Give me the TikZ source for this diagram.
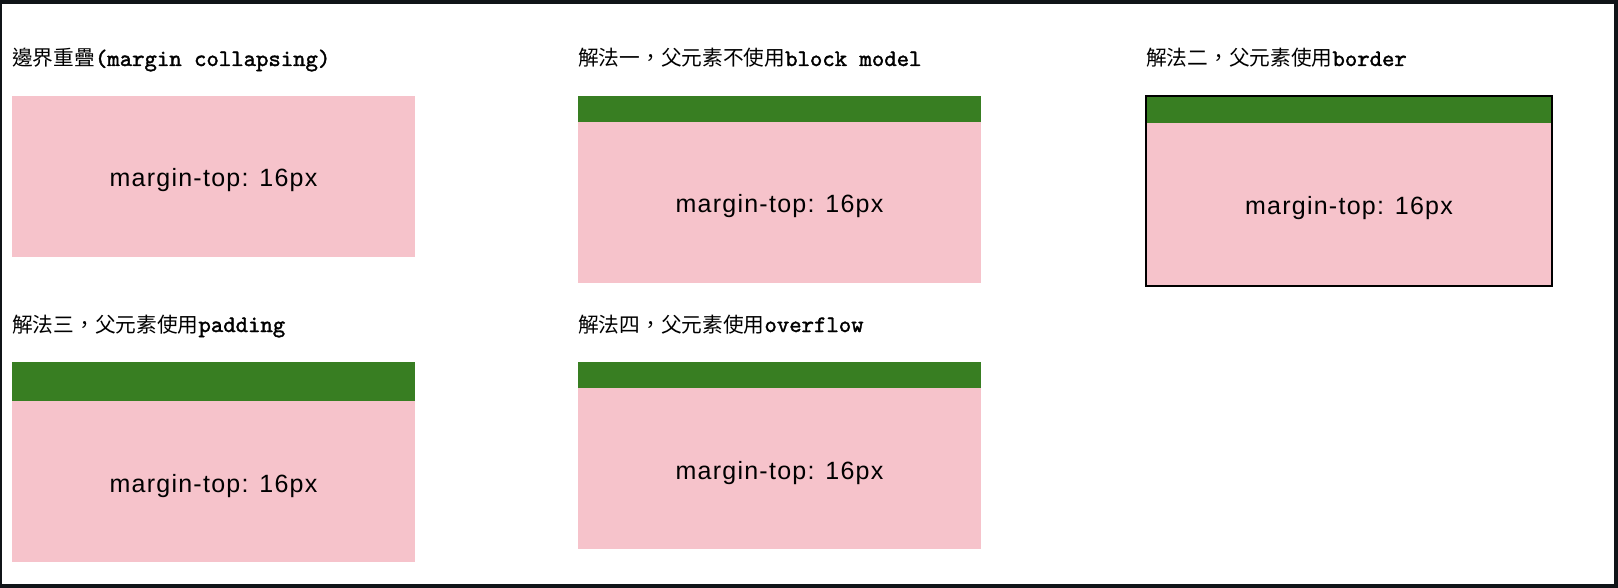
\documentclass[tikz,border=0pt]{standalone}
\usepackage{fontspec}
\setmainfont{Liberation Sans}
\newfontfamily\cjkfont{Noto Sans CJK TC}
\newfontfamily\codefont{lmmono10-regular.otf}[FakeBold=1.6]
\usetikzlibrary{positioning}

\definecolor{framedark}{RGB}{16,20,24}
\definecolor{childpink}{RGB}{246,195,203}
\definecolor{parentgreen}{RGB}{56,126,34}

\newcommand{\zh}[1]{{\cjkfont #1}}
\newcommand{\css}[1]{{\codefont\fontsize{23.6}{28}\selectfont #1}}

\tikzset{
  childbox/.style={fill=childpink, minimum width=403pt, minimum height=161pt,
    inner sep=0pt, outer sep=0pt, text height=21pt, text depth=0pt,
    font=\fontsize{25}{29}\selectfont\addfontfeatures{LetterSpace=5}},
  parentbar/.style={fill=parentgreen, minimum width=403pt, inner sep=0pt, outer sep=0pt},
  heading/.style={anchor=base west, inner sep=0pt, font=\fontsize{20.7}{25}\selectfont}
}

\begin{document}
\begin{tikzpicture}[x=1pt, y=-1pt]
  \useasboundingbox (0,0) rectangle (1618,588);
  \fill[framedark] (0,0) rectangle (1618,588);
  \fill[white] (2,4) rectangle (1614,584);

  % headings
  \node[heading] (h0) at (12,66) {\zh{邊界重疊}\css{(margin collapsing)}};
  \node[heading] (h1) at (578,66) {\zh{解法一，父元素不使用}\css{block model}};
  \node[heading] (h2) at (1146,66) {\zh{解法二，父元素使用}\css{border}};
  \node[heading] (h3) at (12,332) {\zh{解法三，父元素使用}\css{padding}};
  \node[heading] (h4) at (578,332) {\zh{解法四，父元素使用}\css{overflow}};

  % margin collapsing
  \node[childbox, anchor=north west] (c0) at (12,96) {margin-top: 16px};

  % block model
  \node[parentbar, minimum height=26pt, anchor=north west] (p1) at (578,96) {};
  \node[childbox, below=0pt of p1] (c1) {margin-top: 16px};

  % border
  \node[parentbar, minimum height=27pt, minimum width=406pt, anchor=north west] (p2) at (1146,96) {};
  \node[childbox, minimum width=406pt, minimum height=163pt, below=0pt of p2] (c2) {margin-top: 16px};
  \draw[line width=2pt, black] (p2.north west) rectangle (c2.south east);

  % padding
  \node[parentbar, minimum height=39pt, anchor=north west] (p3) at (12,362) {};
  \node[childbox, below=0pt of p3] (c3) {margin-top: 16px};

  % overflow
  \node[parentbar, minimum height=26pt, anchor=north west] (p4) at (578,362) {};
  \node[childbox, below=0pt of p4] (c4) {margin-top: 16px};
\end{tikzpicture}
\end{document}
